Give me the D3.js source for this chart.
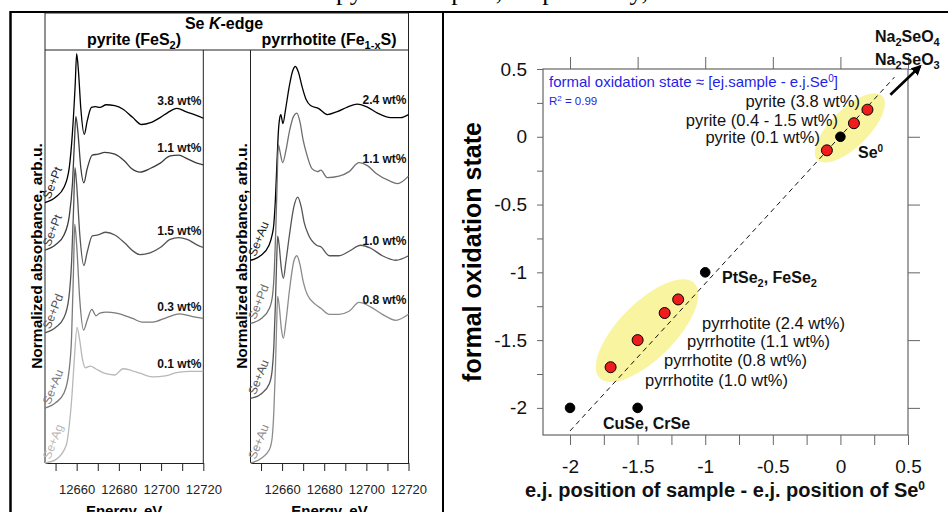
<!DOCTYPE html>
<html>
<head>
<meta charset="utf-8">
<script src="https://cdn.jsdelivr.net/npm/d3@7/dist/d3.min.js"></script>
<style>
body{margin:0;background:#fff}
svg{display:block;font-family:"Liberation Sans",Arial,sans-serif}
</style>
</head>
<body>
<svg id="fig" width="948" height="512"></svg>
<script>
// ---- Se K-edge spectra: [energy eV, normalized absorbance] ----
var pyr38 = [[12645,0],[12650,0.06],[12654,0.17],[12656.5,0.39],[12658,0.78],[12659.3,1.31],[12660,1.66],[12660.8,1.48],[12662,1.04],[12663.6,0.76],[12665,0.91],[12667,1.06],[12669,1.07],[12671,1.06],[12674,1.09],[12678,1.08],[12682,1.04],[12686.5,0.95],[12690.8,0.87],[12695,0.89],[12699.7,0.95],[12703,1.00],[12707.5,1.05],[12712,1.01],[12717,0.97],[12720,0.94]];
var pyr11 = [[12645,0],[12650,0.06],[12654,0.17],[12656.5,0.38],[12658,0.74],[12659,1.23],[12659.6,1.49],[12660.5,1.34],[12662,0.91],[12663.4,0.75],[12665,0.91],[12667.4,1.06],[12670.2,1.07],[12673.3,1.09],[12678.1,1.07],[12682.8,0.99],[12686,0.91],[12690,0.87],[12694.8,0.91],[12699.6,0.97],[12704.3,1.05],[12708.3,1.06],[12712.3,1.02],[12717,0.97],[12720,0.95]];
var pyr15 = [[12645,0],[12650,0.06],[12654,0.17],[12656.3,0.39],[12657.6,0.79],[12658.6,1.43],[12659.2,1.84],[12660,1.65],[12661.5,1.09],[12663.4,0.75],[12665,0.90],[12667.4,1.08],[12670.2,1.09],[12673.8,1.12],[12678.1,1.09],[12682.8,1.00],[12686.8,0.91],[12690,0.87],[12694.8,0.89],[12699.6,0.95],[12704.3,1.04],[12708.3,1.06],[12712.3,1.04],[12717,0.98],[12720,0.95]];
var pyr03 = [[12645,0],[12650,0.06],[12654,0.17],[12656.3,0.40],[12657.6,0.80],[12658.5,1.54],[12659.1,2.05],[12660,1.82],[12661.5,1.20],[12663.3,0.87],[12665,0.98],[12667.2,1.10],[12669.1,1.03],[12671,1.06],[12674,1.07],[12678.8,1.06],[12686.5,1.00],[12691,0.96],[12696,0.96],[12702.7,1.01],[12708.8,1.05],[12715,1.02],[12720,1.00]];
var pyr01 = [[12645,0],[12650.3,0.04],[12655.1,0.20],[12656.5,0.42],[12657.8,0.76],[12658.9,1.16],[12660.2,1.51],[12661.3,1.39],[12662.8,1.15],[12664.1,1.06],[12666.5,1.08],[12669,1.05],[12673,1.00],[12678,0.98],[12682,1.05],[12686,1.03],[12690,1.00],[12696,0.96],[12702,0.97],[12708,1.01],[12714,1.02],[12720,1.02]];

var po24 = [[12645,0],[12649.7,0.03],[12653.8,0.10],[12655.3,0.17],[12656,0.23],[12656.8,0.40],[12657.5,0.63],[12658.3,0.87],[12658.9,0.95],[12659.4,0.97],[12660.4,0.91],[12661.6,1.00],[12663.3,1.15],[12665,1.26],[12666.3,1.29],[12667.8,1.25],[12669.4,1.16],[12671.4,1.07],[12673.5,1.03],[12677.4,1.01],[12681.4,0.97],[12686.2,0.99],[12691,1.02],[12695.7,1.04],[12700.5,1.02],[12705.3,0.98],[12711.6,0.95],[12716.3,0.95],[12720,0.97]];
var po11 = [[12645,0],[12650,0.03],[12654,0.10],[12655.5,0.19],[12656.3,0.35],[12657,0.62],[12657.6,0.92],[12658.2,1.19],[12658.9,1.15],[12660.3,1.07],[12661.8,1.15],[12663.5,1.28],[12665.5,1.38],[12667,1.40],[12668.5,1.34],[12670,1.22],[12671.8,1.12],[12674.2,1.03],[12676.8,1.01],[12678.4,1.02],[12681.4,0.97],[12687,0.98],[12691.8,1.01],[12696.5,1.07],[12700.5,1.05],[12704.5,1.00],[12710.8,0.95],[12714.8,0.93],[12720,0.98]];
var po10 = [[12645,0],[12650,0.03],[12654,0.10],[12655.3,0.19],[12656.1,0.35],[12656.8,0.62],[12657.4,0.91],[12657.9,1.08],[12658.6,1.02],[12659.6,0.87],[12660.6,0.80],[12661.8,0.91],[12663.5,1.09],[12665.5,1.27],[12667.4,1.34],[12669,1.28],[12670.5,1.17],[12672.5,1.09],[12676.4,1.02],[12678.4,1.01],[12682.4,0.95],[12687,0.95],[12691.8,0.98],[12697.3,1.02],[12702.1,1.00],[12707.6,0.95],[12714,0.92],[12720,0.95]];
var po08 = [[12645,0],[12650,0.03],[12654,0.09],[12655.3,0.17],[12656.1,0.35],[12656.8,0.62],[12657.4,0.92],[12657.9,1.11],[12658.6,1.05],[12659.6,0.90],[12660.6,0.83],[12661.8,0.94],[12663.5,1.15],[12665.5,1.34],[12667,1.38],[12668.5,1.32],[12670,1.21],[12672,1.12],[12676.4,1.05],[12678.4,1.03],[12682.4,0.99],[12687,0.99],[12691.8,1.01],[12696.5,1.07],[12702,1.04],[12707.6,0.99],[12714,0.95],[12720,0.99]];

var pyriteSpectra = [pyr38, pyr11, pyr15, pyr03, pyr01];
var pyriteLabels = ['3.8 wt%', '1.1 wt%', '1.5 wt%', '0.3 wt%', '0.1 wt%'];
var pyriteRefs = ['Se+Pt', 'Se+Pt', 'Se+Pd', 'Se+Au', 'Se+Ag'];
var pyriteOffsets = [2.90, 2.37, 1.45, 0.61, 0];

var pyrrhSpectra = [po24, po11, po10, po08];
var pyrrhLabels = ['2.4 wt%', '1.1 wt%', '1.0 wt%', '0.8 wt%'];
var pyrrhRefs = ['Se+Au', 'Se+Pd', 'Se+Au', 'Se+Au'];
var pyrrhOffsets = [1.35, 0.93, 0.43, 0];

var energyTicks = [12650, 12660, 12670, 12680, 12690, 12700, 12710, 12720];
var energyLabels = [12660, 12680, 12700, 12720];

// ---- oxidation state vs edge position ----
var pyriteX = [-0.1, 0.1, 0.2];
var pyriteY = [-0.1, 0.1, 0.2];
var pyrrhX = [-1.7, -1.5, -1.3, -1.2];
var pyrrhY = [-1.7, -1.5, -1.3, -1.2];
var refX = [0, -1, -2, -1.5];
var refY = [0, -1, -2, -2];
var fitLine = [[-2.0, -2.17], [0.4, 0.44]];
var oxTicks = [-2, -1.5, -1, -0.5, 0, 0.5];
var minorTicks = d3.range(-2, 0.51, 0.25);

var svg = d3.select('#fig');
svg.append('rect').attr('width', 948).attr('height', 512).attr('fill', '#fff');

// cropped caption line above the table (only descenders show)
svg.append('text')
    .attr('x', 336).attr('y', 0)
    .attr('textLength', 312)
    .style('font-family', '"Liberation Serif","Times New Roman",serif')
    .style('font-size', '26px')
    .text('pyrite samples, respectively,');

// table borders
svg.append('line').attr('x1', 10).attr('x2', 948).attr('y1', 12).attr('y2', 12)
    .attr('stroke', '#000').attr('stroke-width', 2);
svg.append('line').attr('x1', 10.5).attr('x2', 10.5).attr('y1', 11).attr('y2', 512)
    .attr('stroke', '#000').attr('stroke-width', 2.5);
svg.append('line').attr('x1', 443).attr('x2', 443).attr('y1', 11).attr('y2', 512)
    .attr('stroke', '#000').attr('stroke-width', 2);

// text with sub/superscript pieces; {t, dy, size} shifts a piece off the baseline
function richText(sel, parts){
    var shift = 0;
    parts.forEach(function(p){
        var want = typeof p === 'string' ? 0 : p.dy;
        var ts = sel.append('tspan').text(typeof p === 'string' ? p : p.t);
        if(want !== shift) ts.attr('dy', want - shift);
        if(typeof p !== 'string'){
            if(p.size) ts.style('font-size', p.size + 'px');
            if(p.italic) ts.style('font-style', 'italic');
        }
        shift = want;
    });
    return sel;
}

// ---------- left figure: spectra ----------
var left = svg.append('g');
var top0 = 50, bottom0 = 463;

left.append('line').attr('x1', 45).attr('x2', 409).attr('y1', 13).attr('y2', 13).attr('stroke', '#222');
left.append('line').attr('x1', 45).attr('x2', 409).attr('y1', top0).attr('y2', top0).attr('stroke', '#222');

richText(left.append('text').attr('x', 224).attr('y', 29).attr('text-anchor', 'middle')
    .style('font-size', '16px').style('font-weight', 'bold'),
    ['Se ', {t: 'K', dy: 0, italic: true}, '-edge']);
richText(left.append('text').attr('x', 134).attr('y', 45).attr('text-anchor', 'middle')
    .style('font-size', '16px').style('font-weight', 'bold'),
    ['pyrite (FeS', {t: '2', dy: 4, size: 11}, ')']);
richText(left.append('text').attr('x', 329).attr('y', 45).attr('text-anchor', 'middle')
    .style('font-size', '16px').style('font-weight', 'bold'),
    ['pyrrhotite (Fe', {t: '1-x', dy: 4, size: 11}, 'S)']);

function spectraPanel(x0, x1, yMax, spectra, offsets, labels, refs, colors, yTitleX, leftTop, rightTop){
    var x = d3.scaleLinear().domain([12645, 12720]).range([x0, x1]);
    var y = d3.scaleLinear().domain([0, yMax]).range([bottom0, top0]);
    var g = left.append('g');

    g.append('line').attr('x1', x0).attr('x2', x0).attr('y1', leftTop).attr('y2', bottom0).attr('stroke', '#222');
    g.append('line').attr('x1', x1).attr('x2', x1).attr('y1', rightTop).attr('y2', bottom0).attr('stroke', '#222');

    var ax = g.append('g').attr('transform', 'translate(0,' + bottom0 + ')')
        .call(d3.axisBottom(x).tickValues(energyTicks).tickSize(8).tickSizeOuter(0).tickPadding(14)
            .tickFormat(function(d){ return energyLabels.indexOf(d) >= 0 ? d : ''; }));
    ax.select('.domain').attr('stroke', '#222');
    ax.selectAll('.tick line').attr('stroke', '#222');
    ax.selectAll('text').style('font-size', '13px').style('font-family', '"Liberation Sans",Arial,sans-serif').attr('fill', '#222');

    g.append('text').attr('x', (x0 + x1) / 2).attr('y', 516).attr('text-anchor', 'middle')
        .style('font-size', '15px').style('font-weight', 'bold').text('Energy, eV');

    g.append('text').attr('transform', 'translate(' + yTitleX + ',256) rotate(-90)')
        .attr('text-anchor', 'middle').style('font-size', '15.5px').style('font-weight', 'bold')
        .text('Normalized absorbance, arb.u.');

    var line = d3.line().curve(d3.curveMonotoneX);
    spectra.forEach(function(s, i){
        var off = offsets[i];
        g.append('path')
            .attr('d', line(s.map(function(p){ return [x(p[0]), y(p[1] + off)]; })))
            .attr('fill', 'none').attr('stroke', colors[i]).attr('stroke-width', 1.3);

        // label sits just above the curve near the right edge
        var ys = s.filter(function(p){ return p[0] >= 12700; }).map(function(p){ return y(p[1] + off); });
        g.append('text').attr('x', x1 - 2).attr('y', d3.min(ys) - 3).attr('text-anchor', 'end')
            .style('font-size', '12px').style('font-weight', 'bold').attr('fill', '#111')
            .text(labels[i]);

        g.append('text')
            .attr('transform', 'translate(' + (x0 + 5) + ',' + (y(off) - 3) + ') rotate(-68)')
            .style('font-size', '12px').attr('fill', colors[i] === '#000' ? '#222' : colors[i])
            .text(refs[i]);
    });
}

spectraPanel(45, 203.3, 4.6, pyriteSpectra, pyriteOffsets, pyriteLabels, pyriteRefs,
    ['#000', '#3c3c3c', '#555', '#7a7a7a', '#b8b8b8'], 42, 13, top0);
spectraPanel(250.5, 408.5, 2.75, pyrrhSpectra, pyrrhOffsets, pyrrhLabels, pyrrhRefs,
    ['#000', '#707070', '#555', '#8c8c8c'], 247, top0, 13);

// ---------- right figure: formal oxidation state ----------
var xS = d3.scaleLinear().domain([-2.2, 0.5]).range([543, 908]);
var yS = d3.scaleLinear().domain([-2.2, 0.5]).range([435, 69]);
var right = svg.append('g');
var fmt = function(d){ return oxTicks.indexOf(d) >= 0 ? String(d) : ''; };

function styleAxis(a){
    a.select('.domain').remove();
    a.selectAll('.tick line').attr('stroke', '#666');
    a.selectAll('text').style('font-size', '19px').style('font-family', '"Liberation Sans",Arial,sans-serif').attr('fill', '#111');
}
right.append('g').attr('transform', 'translate(543,0)')
    .call(d3.axisLeft(yS).tickValues(minorTicks).tickSize(6).tickPadding(10).tickFormat(fmt)).call(styleAxis);
right.append('g').attr('transform', 'translate(0,435)')
    .call(d3.axisBottom(xS).tickValues(minorTicks).tickSize(10).tickPadding(15).tickFormat(fmt)).call(styleAxis);
right.append('g').attr('transform', 'translate(0,69)')
    .call(d3.axisTop(xS).tickValues(oxTicks).tickSize(12).tickFormat('')).call(styleAxis);
right.append('g').attr('transform', 'translate(908,0)')
    .call(d3.axisRight(yS).tickValues(oxTicks).tickSize(12).tickFormat('')).call(styleAxis);
right.append('rect').attr('x', 543).attr('y', 69).attr('width', 365).attr('height', 366)
    .attr('fill', 'none').attr('stroke', '#666').attr('stroke-width', 1.2);

// yellow groupings
var clouds = [
    {from: [-0.17, -0.17], to: [0.31, 0.30], half: 19},
    {from: [-1.78, -1.78], to: [-1.08, -1.08], half: 28}
];
clouds.forEach(function(c){
    var ax = xS(c.from[0]), ay = yS(c.from[1]), bx = xS(c.to[0]), by = yS(c.to[1]);
    var len = Math.hypot(bx - ax, by - ay) / 2;
    var ang = Math.atan2(by - ay, bx - ax) * 180 / Math.PI;
    right.append('ellipse')
        .attr('transform', 'translate(' + (ax + bx) / 2 + ',' + (ay + by) / 2 + ') rotate(' + ang + ')')
        .attr('rx', len).attr('ry', c.half).attr('fill', '#f8f4a0');
});

right.append('path')
    .attr('d', d3.line()(fitLine.map(function(p){ return [xS(p[0]), yS(p[1])]; })))
    .attr('stroke', '#111').attr('stroke-width', 1).attr('stroke-dasharray', '5,4');

function dots(xs, ys, fill, r){
    right.selectAll(null).data(xs).enter().append('circle')
        .attr('cx', function(d){ return xS(d); })
        .attr('cy', function(d, i){ return yS(ys[i]); })
        .attr('r', r).attr('fill', fill).attr('stroke', '#000').attr('stroke-width', 1);
}
dots(pyriteX, pyriteY, '#ee1c1c', 5.5);
dots(pyrrhX, pyrrhY, '#ee1c1c', 5.5);
dots(refX, refY, '#000', 4.8);

// arrow toward Na2SeO4 / Na2SeO3
svg.append('defs').append('marker').attr('id', 'head')
    .attr('viewBox', '0 0 10 10').attr('refX', 8).attr('refY', 5)
    .attr('markerWidth', 4).attr('markerHeight', 4).attr('orient', 'auto')
    .append('path').attr('d', 'M0,0L10,5L0,10z').attr('fill', '#000');
right.append('line')
    .attr('x1', xS(0.37)).attr('y1', yS(0.31)).attr('x2', xS(0.59)).attr('y2', yS(0.52))
    .attr('stroke', '#000').attr('stroke-width', 2.6).attr('marker-end', 'url(#head)');

function label(x, y, parts, opts){
    var t = right.append('text').attr('x', x).attr('y', y)
        .attr('text-anchor', opts.anchor || 'start')
        .style('font-size', opts.size + 'px').style('font-weight', opts.bold ? 'bold' : 'normal')
        .attr('fill', opts.color || '#111');
    richText(t, parts);
}

label(549, 87, ['formal oxidation state \u2248 [ej.sample - e.j.Se', {t: '0', dy: -5, size: 10}, ']'], {size: 15, color: '#1f1fe8'});
label(549, 105, ['R', {t: '2', dy: -4, size: 8}, ' = 0.99'], {size: 11.5, color: '#1f1fe8'});

label(860, 107, ['pyrite (3.8 wt%)'], {size: 16.5, anchor: 'end'});
label(838, 126, ['pyrite (0.4 - 1.5 wt%)'], {size: 16.5, anchor: 'end'});
label(820, 143, ['pyrite (0.1 wt%)'], {size: 16.5, anchor: 'end'});
label(858, 158, ['Se', {t: '0', dy: -6, size: 10}], {size: 16, bold: true});

label(875, 42, ['Na', {t: '2', dy: 4, size: 11}, 'SeO', {t: '4', dy: 4, size: 11}], {size: 16, bold: true});
label(875, 65, ['Na', {t: '2', dy: 4, size: 11}, 'SeO', {t: '3', dy: 4, size: 11}], {size: 16, bold: true});

label(722, 283, ['PtSe', {t: '2', dy: 4, size: 11}, ', FeSe', {t: '2', dy: 4, size: 11}], {size: 16, bold: true});
label(603, 429, ['CuSe, CrSe'], {size: 16, bold: true});

label(845, 329, ['pyrrhotite (2.4 wt%)'], {size: 16.5, anchor: 'end'});
label(830, 347, ['pyrrhotite (1.1 wt%)'], {size: 16.5, anchor: 'end'});
label(807, 366, ['pyrrhotite (0.8 wt%)'], {size: 16.5, anchor: 'end'});
label(788, 386, ['pyrrhotite (1.0 wt%)'], {size: 16.5, anchor: 'end'});

right.append('text').attr('transform', 'translate(481,252) rotate(-90)')
    .attr('text-anchor', 'middle').style('font-size', '25px').style('font-weight', 'bold')
    .text('formal oxidation state');
label(725, 497, ['e.j. position of sample - e.j. position of Se', {t: '0', dy: -7, size: 12}], {size: 20, bold: true, anchor: 'middle'});
</script>
</body>
</html>
